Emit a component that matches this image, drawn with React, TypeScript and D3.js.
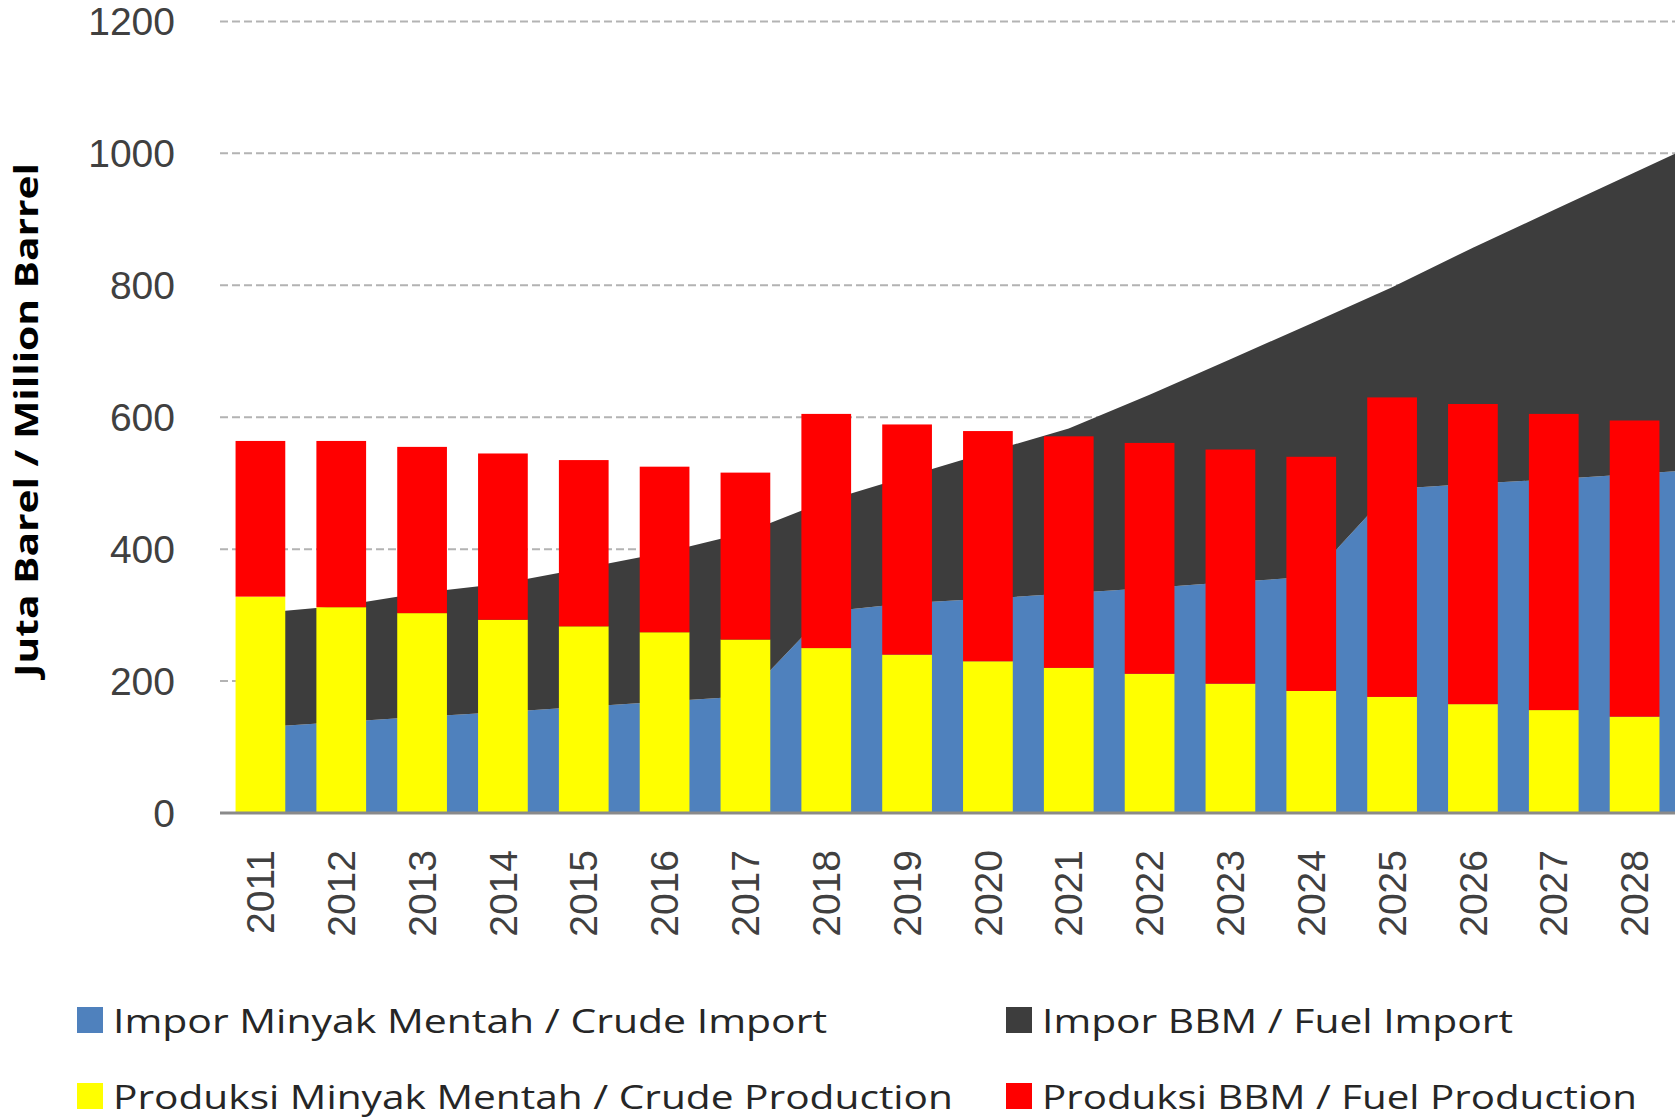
import React from 'react';
import * as d3 from 'd3';

// categories
const years = ['2011', '2012', '2013', '2014', '2015', '2016', '2017', '2018', '2019',
  '2020', '2021', '2022', '2023', '2024', '2025', '2026', '2027', '2028'];

// bars (stacked): crude production + fuel production, million barrel
const crudeProduction = [328, 312, 303, 293, 283, 274, 263, 250, 240, 230, 220, 211, 196, 185, 176, 165, 156, 146];
const fuelProduction = [236, 252, 252, 252, 252, 251, 253, 355, 349, 349, 351, 350, 355, 355, 454, 455, 449, 449];

// areas (stacked): the source picture is cropped on the right, the area runs on into 2029
const areaYears = [...years, '2029'];
const crudeImport = [130, 138, 146, 153, 161, 169, 177, 305, 318, 325, 333, 341, 350, 358, 491, 499, 506, 514, 522];
const fuelImport = [173, 176, 188, 195, 210, 226, 248, 168, 192, 222, 250, 293, 338, 384, 306, 358, 408, 457, 506];

const yTicks = [0, 200, 400, 600, 800, 1000, 1200];

const legendLabels = [
  'Impor Minyak Mentah / Crude Import',
  'Impor BBM / Fuel Import',
  'Produksi Minyak Mentah / Crude Production',
  'Produksi BBM / Fuel Production',
];

const COLORS = {
  crudeImport: '#4f81bd',
  fuelImport: '#3d3d3d',
  crudeProduction: '#ffff00',
  fuelProduction: '#ff0000',
};
const legendColors = [COLORS.crudeImport, COLORS.fuelImport, COLORS.crudeProduction, COLORS.fuelProduction];
const legendWidths = [714, 471, 840, 595];

const W = 1678, H = 1120;
const FONT = "'Open Sans', 'Noto Sans', sans-serif";
const TICK_FONT = "'Liberation Sans', Arial, sans-serif";
const plot = {left: 220, right: 1675, top: 21.4, bottom: 813};

export default function App() {
  const x = d3.scaleBand<string>()
    .domain(years)
    .range([plot.left, plot.right])
    .paddingInner(0.385)
    .paddingOuter(0.1925);
  const y = d3.scaleLinear().domain([0, 1200]).range([plot.bottom, plot.top]);

  // area vertices sit on the category centres, extended by index for the cropped year
  const cx = d3.scaleLinear()
    .domain([0, years.length - 1])
    .range([x(years[0])! + x.bandwidth() / 2, x(years[years.length - 1])! + x.bandwidth() / 2]);

  const areaRows = areaYears.map((yr, i) => ({i, crude: crudeImport[i], fuel: fuelImport[i]}));
  const areaStack = d3.stack<any>().keys(['crude', 'fuel'])(areaRows);
  const area = d3.area<any>()
    .x(d => cx(d.data.i))
    .y0(d => y(d[0]))
    .y1(d => y(d[1]));

  const barRows = years.map((yr, i) => ({yr, crude: crudeProduction[i], fuel: fuelProduction[i]}));
  const barStack = d3.stack<any>().keys(['crude', 'fuel'])(barRows);
  const barColors = [COLORS.crudeProduction, COLORS.fuelProduction];
  const areaColors = [COLORS.crudeImport, COLORS.fuelImport];

  const legendCols = [77, 1006];
  const legendRows = [1033, 1109];

  return (
    <svg width={W} height={H} style={{position: 'absolute', left: 0, top: 0, background: '#fff'}}
         fontFamily={FONT}>
      <defs>
        <clipPath id="plotClip">
          <rect x={plot.left} y={0} width={plot.right - plot.left} height={plot.bottom} />
        </clipPath>
      </defs>

      {/* grid */}
      {yTicks.filter(t => t > 0).map(t => (
        <line key={t} x1={plot.left} x2={plot.right} y1={y(t)} y2={y(t)}
              stroke="#b3b3b3" strokeWidth={2} strokeDasharray="8 4" />
      ))}

      {/* imports as stacked areas */}
      <g clipPath="url(#plotClip)">
        {areaStack.map((s, k) => (
          <path key={k} d={area(s) || ''} fill={areaColors[k]} />
        ))}
      </g>

      {/* production as stacked bars */}
      {barStack.map((s, k) => (
        <g key={k} fill={barColors[k]}>
          {s.map(d => (
            <rect key={d.data.yr} x={x(d.data.yr)} width={x.bandwidth()}
                  y={y(d[1])} height={y(d[0]) - y(d[1])} />
          ))}
        </g>
      ))}

      {/* axis line */}
      <line x1={plot.left} x2={plot.right} y1={y(0)} y2={y(0)} stroke="#8a8a8a" strokeWidth={3} />

      {/* y tick labels */}
      {yTicks.map(t => (
        <text key={t} x={175} y={y(t)} dy="0.35em" textAnchor="end" fontSize={39}
              fontFamily={TICK_FONT} fill="#404040">{t}</text>
      ))}

      {/* x tick labels */}
      {years.map(yr => (
        <text key={yr} transform={`translate(${x(yr)! + x.bandwidth() / 2},850) rotate(-90)`}
              dy="0.35em" textAnchor="end" fontSize={39} fontFamily={TICK_FONT} fill="#404040">{yr}</text>
      ))}

      {/* y axis title */}
      <text transform="translate(38,420) rotate(-90)" textAnchor="middle" fontSize={33} fontWeight="bold"
            fill="#000" textLength={514} lengthAdjust="spacingAndGlyphs">Juta Barel / Million Barrel</text>

      {/* legend */}
      {legendLabels.map((label, i) => {
        const lx = legendCols[i % 2];
        const ly = legendRows[Math.floor(i / 2)];
        return (
          <g key={label}>
            <rect x={lx} y={ly - 26} width={26} height={26} fill={legendColors[i]} />
            <text x={lx + 36} y={ly} fontSize={33} fill="#262626"
                  textLength={legendWidths[i]} lengthAdjust="spacingAndGlyphs">{label}</text>
          </g>
        );
      })}
    </svg>
  );
}
